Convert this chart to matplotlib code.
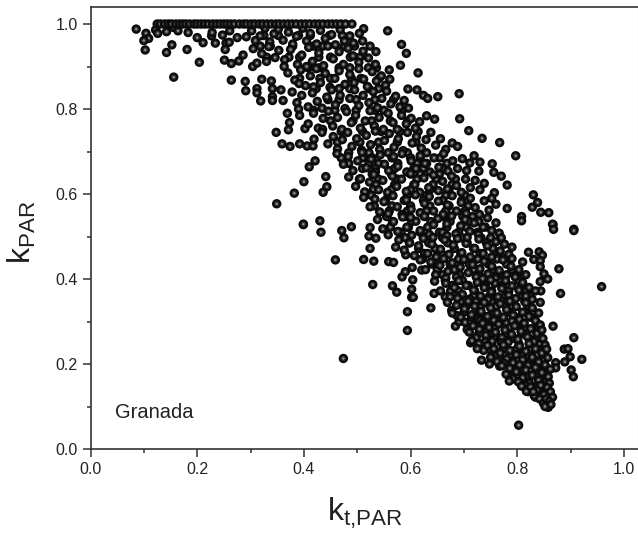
import numpy as np
import matplotlib
matplotlib.use("Agg")
import matplotlib.pyplot as plt

kt_ceiling = [.125,.131,.139,.146,.152,.16,.167,.173,.179,.186,.194,.2,.207,.214,.221,.229,.236,.243,.25,.256,.263,.27,.279,.287,.293,.301,.308,.316,.323,.331,.339,.347,.354,.362,.37,.378,.386,.395,.403,.411,.42,.428,.436,.445,.453,.461,.469,.478,.49]

sparse_points = [(.0857,.988),(.104,.978),(.109,.966),(.100,.961),(.1025,.939),(.1525,.951),(.1425,.933),(.181,.940),(.204,.910),(.156,.875),(.122,.986),(.126,.978),(.1425,.982),(.155,.992),(.164,.984),(.183,.980),(.2,.968),(.211,.956),(.234,.955),(.227,.972),(.228,.980),(.2475,.974),(.254,.955),(.26,.957),(.2525,.940),(.261,.984),(.275,.968),(.292,.970),(.251,.915),(.264,.907),(.278,.913),(.286,.927),(.304,.900),(.312,.908),(.264,.868),(.290,.865),(.291,.843),(.321,.870),(.312,.848),(.312,.838),(.319,.819),(.339,.866),(.341,.848),(.341,.829),(.341,.820),(.357,.845),(.361,.820),(.348,.745),(.359,.718),(.374,.712),(.392,.718),(.406,.713),(.417,.713),(.419,.729),(.410,.664),(.421,.678),(.441,.641),(.400,.629),(.382,.602),(.349,.577),(.399,.528),(.430,.537),(.443,.617),(.436,.604),(.369,.790),(.373,.768),(.371,.751),(.402,.754),
(.512,.989),(.557,.984),(.583,.952),(.592,.931),(.535,.935),(.581,.903),(.614,.885),(.595,.847),(.612,.845),(.624,.832),(.632,.825),(.651,.829),(.691,.836),(.692,.777),(.645,.776),(.630,.784),(.709,.749),(.734,.731),(.767,.721),(.797,.690),(.719,.690),(.711,.673),(.730,.675),(.753,.671),(.756,.651),(.728,.654),(.770,.642),(.781,.621),(.830,.598),(.838,.580),(.828,.569),(.844,.557),(.859,.556),(.867,.528),(.906,.517),(.757,.603),(.760,.576),(.781,.566),(.808,.547),(.808,.537),
(.958,.382),(.906,.514),(.866,.529),(.868,.517),(.881,.366),(.878,.424),(.867,.289),(.906,.262),(.888,.235),(.895,.236),(.899,.217),(.921,.211),(.889,.205),(.901,.186),(.905,.170),(.872,.203),(.872,.191),(.8025,.056),(.474,.213),(.459,.445),(.512,.446),(.531,.442),(.559,.441),(.568,.439),(.529,.387),(.566,.384),(.574,.369),(.594,.323),(.594,.279),(.638,.332),(.602,.376),(.602,.357),(.605,.357),(.604,.398),(.584,.405),(.590,.417),(.603,.427),(.621,.421),(.644,.366),(.665,.358),(.677,.326),(.684,.289),(.706,.281),(.7125,.250),(.733,.209),(.767,.195),(.691,.300),(.687,.314),(.432,.510),(.399,.529),(.471,.514),(.475,.497),(.489,.523),(.522,.501),(.524,.472),(.524,.521),(.535,.496),(.572,.475),(.591,.457),(.821,.463),(.841,.464),(.847,.456),(.831,.446),(.843,.443),(.843,.429),(.850,.412),(.857,.400),(.843,.394),(.844,.372)]

body_top = [(.302,.984),(.318,.972),(.309,.961),(.327,.99),(.336,.958),(.344,.977),(.352,.988),(.361,.962),(.371,.981),(.379,.953),(.386,.971),(.398,.99),(.405,.96),(.412,.978),(.424,.953),(.431,.985),(.44,.966),(.452,.975),(.459,.951),(.468,.987),(.476,.96),(.486,.972),(.493,.955),(.504,.978),(.51,.96),
(.305,.942),(.321,.93),(.334,.947),(.346,.921),(.353,.938),(.364,.916),(.375,.94),(.388,.905),(.396,.927),(.409,.945),(.416,.912),(.428,.932),(.437,.902),(.445,.948),(.455,.918),(.466,.935),(.474,.905),(.483,.943),(.492,.925),(.503,.91),(.511,.936),(.521,.92),(.534,.905),(.33,.912),(.405,.9),(.363,.9),(.524,.948),
(.37,.885),(.383,.868),(.394,.892),(.403,.855),(.412,.878),(.423,.895),(.431,.862),(.44,.884),(.449,.851),(.458,.872),(.466,.89),(.477,.858),(.486,.881),(.494,.862),(.503,.895),(.512,.87),(.519,.853),(.528,.888),(.536,.866),(.545,.878),(.553,.856),(.56,.892),(.561,.87),(.391,.86),(.418,.852),
(.378,.84),(.387,.815),(.396,.832),(.408,.805),(.416,.838),(.425,.818),(.434,.802),(.443,.828),(.452,.845),(.459,.81),(.468,.832),(.477,.801),(.486,.825),(.495,.845),(.503,.808),(.511,.832),(.522,.815),(.53,.841),(.538,.803),(.546,.825),(.555,.842),(.563,.812),(.572,.83),(.58,.805),(.588,.82),(.596,.802),(.39,.8),
(.392,.785),(.408,.765),(.418,.79),(.427,.755),(.436,.778),(.446,.795),(.454,.76),(.463,.78),(.471,.752),(.48,.794),(.489,.768),(.497,.785),(.506,.755),(.515,.772),(.524,.796),(.532,.76),(.541,.78),(.549,.752),(.558,.79),(.567,.768),(.575,.752),(.583,.785),(.592,.765),(.601,.778),(.609,.755),(.617,.77),(.435,.752),
(.434,.745),(.445,.718),(.455,.735),(.463,.706),(.472,.728),(.482,.745),(.49,.712),(.499,.73),(.508,.703),(.517,.738),(.525,.716),(.534,.748),(.542,.705),(.551,.726),(.56,.742),(.569,.71),(.577,.73),(.586,.702),(.594,.745),(.603,.72),(.611,.735),(.62,.708),(.629,.728),(.638,.745),(.647,.715),(.656,.73),(.666,.705),(.678,.72),(.688,.712)]

body_mid = [(.462,.695),(.474,.67),(.483,.688),(.492,.655),(.501,.678),(.509,.698),(.517,.662),(.526,.682),(.534,.652),(.543,.692),(.551,.67),(.559,.655),(.568,.688),(.576,.665),(.584,.695),(.593,.652),(.601,.678),(.61,.66),(.618,.69),(.627,.672),(.636,.652),(.644,.685),(.653,.663),(.662,.695),(.67,.654),(.679,.678),(.688,.66),(.697,.683),(.705,.655),
(.484,.64),(.497,.618),(.506,.636),(.514,.605),(.523,.628),(.531,.646),(.54,.61),(.548,.632),(.557,.604),(.566,.642),(.574,.618),(.583,.635),(.592,.606),(.6,.648),(.608,.622),(.617,.604),(.625,.638),(.634,.615),(.643,.645),(.652,.608),(.66,.63),(.669,.612),(.677,.642),(.686,.62),(.695,.604),(.703,.635),(.712,.615),(.721,.632),(.73,.61),(.738,.625),
(.512,.592),(.524,.57),(.533,.588),(.542,.558),(.55,.582),(.558,.554),(.567,.596),(.575,.57),(.584,.552),(.592,.586),(.601,.564),(.609,.598),(.618,.556),(.626,.578),(.635,.594),(.643,.56),(.652,.583),(.661,.552),(.669,.574),(.678,.596),(.686,.56),(.695,.58),(.704,.554),(.712,.59),(.721,.568),(.729,.552),(.738,.584),(.747,.562),(.752,.59),
(.538,.54),(.548,.518),(.558,.504),(.568,.535),(.576,.512),(.585,.546),(.593,.522),(.602,.503),(.61,.536),(.618,.514),(.626,.548),(.635,.505),(.643,.528),(.651,.542),(.66,.51),(.668,.53),(.677,.548),(.685,.506),(.694,.525),(.702,.54),(.711,.512),(.719,.532),(.727,.505),(.736,.522),(.744,.544),(.752,.514),(.76,.532),(.766,.508),(.6,.545),(.668,.502),
(.578,.492),(.588,.468),(.598,.485),(.607,.455),(.615,.478),(.624,.496),(.632,.46),(.64,.482),(.648,.452),(.656,.47),(.664,.492),(.672,.458),(.68,.48),(.688,.495),(.696,.462),(.704,.484),(.712,.452),(.72,.472),(.728,.494),(.736,.46),(.744,.478),(.752,.452),(.76,.488),(.768,.466),(.776,.482),(.784,.458),(.79,.475),(.642,.498),(.706,.498),(.77,.497),
(.618,.445),(.628,.422),(.638,.44),(.647,.41),(.655,.432),(.662,.448),(.67,.418),(.678,.438),(.686,.405),(.693,.428),(.7,.446),(.708,.415),(.716,.434),(.723,.405),(.73,.424),(.738,.442),(.745,.412),(.752,.43),(.759,.402),(.766,.42),(.773,.445),(.78,.41),(.788,.43),(.796,.405),(.803,.422),(.81,.44),(.816,.41),(.79,.448),(.666,.402),(.735,.401)]

body_low = [(.645,.395),(.656,.372),(.666,.39),(.674,.358),(.682,.38),(.69,.396),(.697,.364),(.704,.385),(.711,.353),(.718,.374),(.725,.392),(.731,.36),(.738,.38),(.745,.352),(.751,.37),(.758,.39),(.764,.358),(.771,.378),(.778,.396),(.784,.362),(.79,.384),(.797,.354),(.803,.374),(.81,.392),(.816,.36),(.822,.38),(.828,.352),(.834,.372),(.688,.355),(.75,.398),
(.669,.345),(.678,.32),(.686,.338),(.694,.31),(.701,.33),(.708,.348),(.714,.316),(.72,.336),(.726,.306),(.732,.324),(.738,.345),(.744,.312),(.75,.332),(.756,.303),(.762,.32),(.768,.342),(.774,.31),(.78,.328),(.786,.348),(.792,.315),(.798,.335),(.804,.305),(.81,.322),(.816,.344),(.822,.312),(.828,.332),(.834,.302),(.84,.32),(.843,.345),(.73,.302),(.79,.301),
(.702,.298),(.71,.275),(.717,.29),(.723,.262),(.729,.282),(.735,.296),(.741,.268),(.747,.286),(.753,.254),(.759,.275),(.765,.294),(.771,.262),(.777,.28),(.783,.252),(.789,.27),(.795,.29),(.801,.258),(.807,.277),(.813,.296),(.819,.264),(.825,.283),(.831,.253),(.837,.272),(.843,.292),(.848,.26),(.846,.28),(.74,.252),(.715,.255),(.77,.25),
(.728,.248),(.737,.232),(.744,.244),(.75,.216),(.756,.236),(.762,.206),(.768,.226),(.774,.245),(.78,.212),(.786,.232),(.792,.203),(.798,.222),(.804,.242),(.81,.21),(.816,.23),(.822,.248),(.828,.216),(.834,.236),(.84,.205),(.846,.226),(.852,.245),(.857,.215),(.855,.235),(.748,.2),(.775,.202),(.725,.236),
(.771,.196),(.779,.176),(.786,.19),(.792,.165),(.798,.182),(.804,.198),(.81,.168),(.816,.186),(.822,.155),(.828,.174),(.834,.192),(.84,.162),(.846,.18),(.852,.198),(.858,.17),(.862,.188),(.802,.158),(.815,.15),(.86,.155),(.785,.16),
(.808,.148),(.817,.136),(.825,.146),(.832,.125),(.838,.14),(.844,.15),(.85,.128),(.856,.145),(.862,.135),(.866,.122),(.842,.118),(.849,.108),(.854,.118),(.86,.112),(.855,.102),(.858,.098),(.852,.1),(.863,.105),(.83,.135)]

# denser filling layer underneath the scattered points, by kPAR level
k_rows = [.973,.948,.922,.897,.872,.848,.822,.797,.772,.747,.722,.697,.685,.672,.66,.647,.635,.622,.61,.597,.585,.572,.56,.547,.535,.522,.51,.497,.485,.472,.46,.447,.435,.422,.41,.397,.385,.372,.36,.347,.335,.322,.31,.297,.285,.272,.26,.247,.235,.222,.21,.197,.185,.172,.16,.147,.135,.122]
kt_rows = [
[.325,.352,.39,.412,.448,.472],
[.318,.337,.379,.418,.436,.476,.495],
[.33,.372,.392,.428,.45,.487,.505],
[.408,.428,.466,.486,.521,.536],
[.392,.43,.45,.489,.507,.541],
[.423,.466,.486,.522,.54],
[.445,.466,.498,.533,.568],
[.418,.458,.498,.533,.55,.584],
[.45,.492,.527,.562,.595],
[.47,.51,.545,.58,.614],
[.463,.505,.54,.575,.61],
[.484,.522,.558,.594,.63],
[.47,.51,.528,.565,.6,.618,.655],
[.484,.522,.54,.576,.612,.63,.668],
[.51,.534,.57,.606,.624,.66],
[.528,.564,.6,.618,.654],
[.504,.54,.576,.612,.648,.684],
[.535,.57,.606,.642,.678],
[.53,.564,.6,.636,.672],
[.526,.558,.594,.63,.666,.702],
[.553,.588,.624,.66,.696],
[.532,.565,.6,.636,.672,.708],
[.56,.594,.63,.666,.702],
[.555,.59,.626,.662,.698,.716],
[.566,.602,.638,.674,.71,.728],
[.562,.596,.632,.668,.704,.74],
[.582,.618,.654,.69,.726],
[.59,.624,.66,.696,.732,.75],
[.598,.634,.67,.706,.742],
[.615,.646,.682,.718,.754],
[.626,.658,.694,.73,.766],
[.622,.654,.69,.726,.762,.778],
[.64,.674,.71,.746,.78],
[.65,.682,.718,.754,.79],
[.66,.692,.728,.764,.8],
[.665,.697,.73,.766,.802],
[.678,.708,.74,.772,.808],
[.675,.69,.72,.752,.784,.816],
[.69,.718,.748,.778,.81,.825],
[.694,.722,.752,.782,.814],
[.704,.732,.76,.79,.82],
[.7,.728,.756,.785,.815,.83],
[.714,.741,.769,.797,.825],
[.725,.752,.78,.808,.836],
[.732,.758,.785,.813,.84],
[.728,.754,.781,.809,.837],
[.742,.768,.795,.822,.836],
[.752,.776,.803,.829,.842],
[.748,.773,.799,.825,.838],
[.762,.786,.811,.837,.85],
[.777,.801,.826,.85],
[.772,.796,.82,.844],
[.787,.811,.835,.847],
[.799,.822,.846],
[.806,.83,.854],
[.815,.838,.85],
[.82,.843,.854],
[.834,.856],
]

fill_points = [(v, ky) for ky, row in zip(k_rows, kt_rows) for v in row]
points = fill_points + sparse_points + body_top + body_mid + body_low
kt = np.array([p[0] for p in points] + kt_ceiling)
k = np.array([p[1] for p in points] + [1.0]*len(kt_ceiling))

plt.rcParams['font.family'] = ['Liberation Sans', 'DejaVu Sans']
plt.rcParams['mathtext.fontset'] = 'custom'
plt.rcParams['mathtext.rm'] = 'Liberation Sans'
plt.rcParams['mathtext.default'] = 'rm'

W, H = 638, 538
fig = plt.figure(figsize=(W/100, H/100), dpi=100)
ax = fig.add_axes([90.5/W, 1-449/H, 547/W, 442/H])

# every ball is three stacked discs, drawn in order so that later balls cover earlier ones
xs = np.repeat(kt, 3)
ys = np.repeat(k, 3)
sizes = np.tile([46, 13, 3.0], len(kt))
cols = np.tile(np.array(['#0a0a0a', '#303030', '#8e8e8e']), len(kt))
balls = ax.scatter(xs, ys, s=sizes, c=list(cols), linewidths=0, clip_on=False, zorder=3)
balls.set_snap(False)

ax.set_xlim(0, 547/533.5)
ax.set_ylim(0, 442/425)
ax.set_xticks([0, .2, .4, .6, .8, 1.0])
ax.set_xticks([.1, .3, .5, .7, .9], minor=True)
ax.set_yticks([0, .2, .4, .6, .8, 1.0])
ax.set_yticks([.1, .3, .5, .7, .9], minor=True)
ax.xaxis.set_major_formatter(matplotlib.ticker.FormatStrFormatter('%.1f'))
ax.yaxis.set_major_formatter(matplotlib.ticker.FormatStrFormatter('%.1f'))
ax.tick_params(which='major', length=6, width=1.1, color='#333333', labelsize=11.5, labelcolor='#222222', pad=3)
ax.tick_params(which='minor', length=3.2, width=1.1, color='#333333')
for s in ['left', 'bottom', 'top']:
    ax.spines[s].set_linewidth(1.2)
    ax.spines[s].set_color('#333333')
ax.spines['right'].set_linewidth(0.8)
ax.spines['right'].set_color('#bbbbbb')

fig.text(365/W, 1-513/H, r'$\mathrm{k_{t{,}PAR}}$', fontsize=23, color='#222222', ha='center', va='center')
fig.text(22/W, 1-232/H, r'$\mathrm{k_{PAR}}$', fontsize=23, color='#222222', ha='center', va='center', rotation=90)
ax.text(115.5/W, 1-413/H, 'Granada', transform=fig.transFigure, fontsize=14.5, color='#222222', va='center', ha='left')

fig.savefig('out.png', dpi=100)
